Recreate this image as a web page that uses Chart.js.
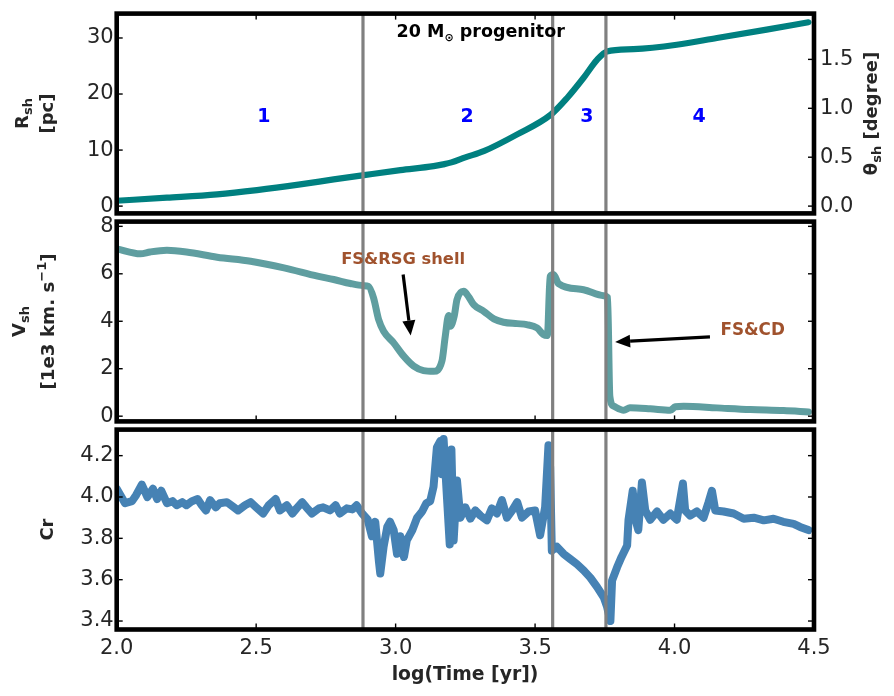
<!DOCTYPE html>
<html>
<head>
<meta charset="utf-8">
<script src="https://cdn.jsdelivr.net/npm/chart.js@4.4.1/dist/chart.umd.min.js"></script>
<style>
  html, body { margin: 0; padding: 0; background: #fff; }
  #wrap { position: relative; width: 894px; height: 696px; overflow: hidden; }
  #wrap canvas { position: absolute; left: 0; }
</style>
</head>
<body>
<div id="wrap">
  <canvas id="rChart" width="894" height="240" style="top:0px"></canvas>
  <canvas id="vChart" width="894" height="240" style="top:200px"></canvas>
  <canvas id="crChart" width="894" height="300" style="top:400px"></canvas>
</div>
<script>
// --- data ---
const xTicks = [2.0, 2.5, 3.0, 3.5, 4.0, 4.5];
const rTicks = [0, 10, 20, 30];
const thetaTicks = [0.0, 0.5, 1.0, 1.5];
const vTicks = [0, 2, 4, 6, 8];
const crTicks = [3.4, 3.6, 3.8, 4.0, 4.2];

// phase boundaries (log yr) and phase numbers
const phaseBounds = [2.883, 3.563, 3.754];
const phaseNames = ['1', '2', '3', '4'];
const phaseNameX = [2.528, 3.256, 3.686, 4.088];

const timeR = [2.0, 2.18, 2.36, 2.503, 2.658, 2.778, 2.887, 3.017, 3.136, 3.17, 3.2, 3.25,
    3.316, 3.436, 3.556, 3.615, 3.674, 3.722, 3.758, 3.853, 4.008, 4.152, 4.33, 4.48];
const rSh = [0.96, 1.5, 2.09, 2.85, 3.87, 4.76, 5.53, 6.42, 7.13, 7.45, 7.8, 8.7,
    9.8, 12.8, 16.3, 19.3, 22.9, 26.1, 27.6, 28.0, 28.8, 30.0, 31.5, 32.8];

const timeV = [2.0, 2.085, 2.12, 2.18, 2.25, 2.36, 2.48, 2.6, 2.72, 2.778, 2.838, 2.885,
    2.903, 2.921, 2.939, 2.957, 2.993, 3.029, 3.065, 3.1, 3.136, 3.166, 3.178, 3.19,
    3.196, 3.21, 3.22, 3.244, 3.262, 3.28, 3.316, 3.352, 3.387, 3.436, 3.47, 3.507,
    3.53, 3.544, 3.554, 3.566, 3.584, 3.674, 3.746, 3.76, 3.768, 3.782, 3.818, 3.84,
    3.913, 3.985, 4.003, 4.033, 4.152, 4.272, 4.391, 4.48];
const vSh = [7.05, 6.84, 6.92, 6.99, 6.92, 6.70, 6.53, 6.25, 5.9, 5.76, 5.59, 5.50,
    5.47, 4.98, 4.07, 3.58, 3.09, 2.53, 2.11, 1.92, 1.89, 2.32, 3.37, 4.24,
    3.79, 4.21, 4.91, 5.26, 5.03, 4.70, 4.42, 4.10, 3.96, 3.90, 3.86, 3.72,
    3.44, 3.40, 5.89, 5.97, 5.59, 5.33, 5.08, 5.0, 0.84, 0.42, 0.25, 0.35,
    0.31, 0.25, 0.40, 0.42, 0.35, 0.28, 0.24, 0.18];

const timeCr = [2.0, 2.03, 2.055, 2.07, 2.09, 2.11, 2.13, 2.145, 2.16, 2.18, 2.2, 2.215,
    2.235, 2.25, 2.27, 2.29, 2.305, 2.32, 2.335, 2.355, 2.37, 2.395, 2.42, 2.435,
    2.46, 2.48, 2.5, 2.525, 2.545, 2.57, 2.585, 2.61, 2.63, 2.645, 2.665, 2.68,
    2.7, 2.725, 2.74, 2.765, 2.785, 2.8, 2.825, 2.845, 2.86, 2.88, 2.9, 2.915,
    2.927, 2.94, 2.945, 2.957, 2.97, 2.98, 2.993, 3.005, 3.017, 3.03, 3.04, 3.06,
    3.077, 3.095, 3.11, 3.124, 3.136, 3.148, 3.16, 3.166, 3.172, 3.184, 3.194, 3.2,
    3.208, 3.22, 3.232, 3.25, 3.268, 3.286, 3.304, 3.327, 3.345, 3.363, 3.381, 3.399,
    3.418, 3.436, 3.453, 3.477, 3.5, 3.518, 3.536, 3.548, 3.554, 3.56, 3.578, 3.602,
    3.626, 3.65, 3.674, 3.698, 3.722, 3.746, 3.758, 3.77, 3.776, 3.794, 3.81, 3.83,
    3.835, 3.85, 3.86, 3.87, 3.883, 3.895, 3.913, 3.937, 3.96, 3.985, 4.008, 4.03,
    4.038, 4.056, 4.08, 4.104, 4.122, 4.134, 4.146, 4.176, 4.212, 4.248, 4.284, 4.32,
    4.355, 4.39, 4.427, 4.45, 4.48];
const crVals = [4.04, 3.97, 3.98, 4.01, 4.06, 4.0, 4.04, 3.99, 4.03, 3.97, 3.98, 3.96,
    3.975, 3.96, 3.98, 3.99, 3.96, 3.935, 3.985, 3.95, 3.97, 3.975, 3.95, 3.935,
    3.96, 3.975, 3.95, 3.92, 3.96, 3.99, 3.935, 3.96, 3.92, 3.945, 3.975, 3.95,
    3.92, 3.945, 3.95, 3.935, 3.96, 3.92, 3.945, 3.94, 3.96, 3.92, 3.89, 3.81,
    3.88, 3.69, 3.63, 3.76, 3.855, 3.88, 3.84, 3.725, 3.81, 3.71, 3.79, 3.84,
    3.90, 3.93, 3.97, 3.98, 4.05, 4.24, 4.27, 4.11, 4.28, 4.0, 3.77, 4.23,
    3.79, 4.08, 3.90, 3.95, 3.895, 3.935, 3.91, 3.887, 3.945, 3.92, 3.985, 3.90,
    3.935, 3.975, 3.90, 3.93, 3.935, 3.815, 3.95, 4.25, 4.145, 3.74, 3.76, 3.725,
    3.70, 3.675, 3.645, 3.61, 3.565, 3.515, 3.47, 3.40, 3.595, 3.66, 3.71, 3.765,
    3.89, 4.03, 3.89, 3.84, 4.07, 3.935, 3.89, 3.93, 3.89, 3.92, 3.89, 4.065,
    3.935, 3.91, 3.93, 3.90, 3.975, 4.03, 3.935, 3.93, 3.92, 3.895, 3.90, 3.887,
    3.895, 3.88, 3.87, 3.855, 3.84];

// --- axis ranges ---
const X_MIN = 2.0, X_MAX = 4.5;
const R_MIN = -1.3, R_MAX = 34.35;
const V_MIN = -0.22, V_MAX = 8.2;
const CR_MIN = 3.359, CR_MAX = 4.326;
const DEG_PER_PC = 180 / Math.PI / 1000;   // angular size seen from 1 kpc

// --- layout ---
const PLOT_LEFT = 116.7;
const RIGHT_GAP = 80;
const TICK_FONT = { family: 'DejaVu Sans', size: 21 };
const TICK_COLOR = '#262626';
const TITLE_COLOR = '#262626';

function pts(xs, ys) {
    return xs.map((x, i) => ({ x: x, y: ys[i] }));
}

function fixedTicks(list) {
    return scale => { scale.ticks = list.map(v => ({ value: v })); };
}

// draws text made of pieces [text, size, dy], centred on (x, y)
function drawRich(ctx, parts, x, y, color, rotate) {
    ctx.save();
    ctx.translate(x, y);
    if (rotate) ctx.rotate(rotate);
    ctx.fillStyle = color;
    ctx.textAlign = 'left';
    ctx.textBaseline = 'alphabetic';
    let w = 0;
    parts.forEach(p => {
        ctx.font = `bold ${p[1]}px "DejaVu Sans"`;
        w += ctx.measureText(p[0]).width;
    });
    const base = parts[0][1] * 0.36;
    let cx = -w / 2;
    parts.forEach(p => {
        ctx.font = `bold ${p[1]}px "DejaVu Sans"`;
        ctx.fillText(p[0], cx, base + (p[2] || 0));
        cx += ctx.measureText(p[0]).width;
    });
    ctx.restore();
}

function drawArrow(ctx, x1, y1, x2, y2) {
    const ang = Math.atan2(y2 - y1, x2 - x1);
    const headLen = 15, headW = 6.5;
    const bx = x2 - headLen * Math.cos(ang), by = y2 - headLen * Math.sin(ang);
    ctx.save();
    ctx.strokeStyle = '#000';
    ctx.fillStyle = '#000';
    ctx.lineWidth = 3.2;
    ctx.beginPath();
    ctx.moveTo(x1, y1);
    ctx.lineTo(bx, by);
    ctx.stroke();
    ctx.beginPath();
    ctx.moveTo(x2, y2);
    ctx.lineTo(bx + headW * Math.sin(ang), by - headW * Math.cos(ang));
    ctx.lineTo(bx - headW * Math.sin(ang), by + headW * Math.cos(ang));
    ctx.closePath();
    ctx.fill();
    ctx.restore();
}

// frame, inward ticks, phase lines and annotations for one panel
function makeDecor(cfg) {
    return {
        id: 'decor',
        afterDatasetsDraw(chart) {
            const { ctx, chartArea: a, scales } = chart;
            ctx.save();
            ctx.strokeStyle = '#808080';
            ctx.lineWidth = 3.2;
            phaseBounds.forEach(t => {
                const px = scales.x.getPixelForValue(t);
                ctx.beginPath();
                ctx.moveTo(px, a.top);
                ctx.lineTo(px, a.bottom);
                ctx.stroke();
            });
            ctx.restore();
        },
        afterDraw(chart) {
            const { ctx, chartArea: a, scales } = chart;
            const yS = scales.y;
            ctx.save();
            // inward ticks
            ctx.strokeStyle = '#000';
            ctx.lineWidth = 1.4;
            const tl = 6;
            cfg.xTickSides.forEach(side => {
                xTicks.forEach(v => {
                    const px = scales.x.getPixelForValue(v);
                    const y0 = side === 'top' ? a.top : a.bottom;
                    const dir = side === 'top' ? 1 : -1;
                    ctx.beginPath();
                    ctx.moveTo(px, y0);
                    ctx.lineTo(px, y0 + dir * tl);
                    ctx.stroke();
                });
            });
            yS.ticks.forEach(t => {
                const py = yS.getPixelForValue(t.value);
                ctx.beginPath();
                ctx.moveTo(a.left, py);
                ctx.lineTo(a.left + tl, py);
                ctx.stroke();
            });
            const rS = cfg.rightScale ? scales[cfg.rightScale] : yS;
            rS.ticks.forEach(t => {
                const py = rS.getPixelForValue(t.value);
                ctx.beginPath();
                ctx.moveTo(a.right, py);
                ctx.lineTo(a.right - tl, py);
                ctx.stroke();
            });
            // frame
            ctx.lineWidth = 4.6;
            ctx.strokeRect(a.left, a.top, a.right - a.left, a.bottom - a.top);
            ctx.restore();

            const midY = (a.top + a.bottom) / 2;
            (cfg.titles || []).forEach(tt => {
                const ty = tt.dy !== undefined ? a.bottom + tt.dy : midY;
                drawRich(ctx, tt.parts, tt.x, ty, TITLE_COLOR, tt.rotate);
            });
            (cfg.notes || []).forEach(n => {
                drawRich(ctx, n.parts, scales.x.getPixelForValue(n.x), yS.getPixelForValue(n.y), n.color);
            });
            (cfg.arrows || []).forEach(ar => {
                drawArrow(ctx,
                    scales.x.getPixelForValue(ar[0]), yS.getPixelForValue(ar[1]),
                    scales.x.getPixelForValue(ar[2]), yS.getPixelForValue(ar[3]));
            });
        }
    };
}

function xScale(axisHeight, showLabels) {
    return {
        type: 'linear', min: X_MIN, max: X_MAX,
        afterBuildTicks: fixedTicks(xTicks),
        afterFit: s => { s.height = axisHeight; },
        grid: { display: false, drawTicks: false },
        border: { display: false },
        ticks: {
            display: showLabels, padding: 6, font: TICK_FONT, color: TICK_COLOR,
            maxRotation: 0, callback: v => v.toFixed(1)
        }
    };
}

function yScale(min, max, list, fmt) {
    return {
        type: 'linear', position: 'left', min: min, max: max,
        afterBuildTicks: fixedTicks(list),
        afterFit: s => { s.width = PLOT_LEFT; },
        grid: { display: false, drawTicks: false },
        border: { display: false },
        ticks: { padding: 3, font: TICK_FONT, color: TICK_COLOR, callback: fmt }
    };
}

function baseOptions(padding, scales) {
    return {
        responsive: false,
        maintainAspectRatio: false,
        animation: false,
        events: [],
        layout: { padding: padding },
        plugins: { legend: { display: false }, tooltip: { enabled: false } },
        scales: scales
    };
}

function lineSet(data, color, width, smooth) {
    return {
        data: data, borderColor: color, borderWidth: width, pointRadius: 0,
        fill: false, tension: 0, cubicInterpolationMode: smooth ? 'monotone' : 'default',
        borderJoinStyle: 'round', borderCapStyle: 'round'
    };
}

// build once to learn the label margins, then size/place the canvas so the
// plot frame lands on [top, bottom] of the page
function buildPanel(id, config, top, bottom) {
    const canvas = document.getElementById(id);
    let chart = new Chart(canvas, config);
    const mt = chart.chartArea.top;
    const mb = chart.height - chart.chartArea.bottom;
    chart.destroy();
    const h = Math.round(bottom - top + mt + mb);
    canvas.width = 894;
    canvas.height = h;
    canvas.style.width = '894px';
    canvas.style.height = h + 'px';
    canvas.style.top = (top - mt) + 'px';
    return new Chart(canvas, config);
}

const ROT = -Math.PI / 2;

// --- panel 1: shock radius ---
buildPanel('rChart', {
    type: 'line',
    data: { datasets: [lineSet(pts(timeR, rSh), '#008080', 6.2, true)] },
    options: baseOptions({ top: 4, left: 0, right: 0, bottom: 0 }, {
        x: xScale(4, false),
        y: yScale(R_MIN, R_MAX, rTicks, v => String(v)),
        y2: {
            type: 'linear', position: 'right', display: true,
            min: R_MIN * DEG_PER_PC, max: R_MAX * DEG_PER_PC,
            afterBuildTicks: fixedTicks(thetaTicks),
            afterFit: s => { s.width = RIGHT_GAP; },
            grid: { display: false, drawTicks: false },
            border: { display: false },
            ticks: { padding: 6, font: TICK_FONT, color: TICK_COLOR, callback: v => v.toFixed(1) }
        }
    }),
    plugins: [makeDecor({
        xTickSides: ['top'],
        rightScale: 'y2',
        titles: [
            { parts: [['R', 18], ['sh', 13, 4]], x: 22, rotate: ROT },
            { parts: [['[pc]', 18]], x: 47, rotate: ROT },
            { parts: [['θ', 18], ['sh', 13, 4], [' [degree]', 18]], x: 871, rotate: ROT }
        ],
        notes: [
            { parts: [['20 M', 17.5], ['⊙', 11, 4], [' progenitor', 17.5]], x: 3.305, y: 31.3, color: '#000' }
        ].concat(phaseNames.map((n, i) => (
            { parts: [[n, 19]], x: phaseNameX[i], y: 16.2, color: '#0000ff' })))
    })]
}, 14, 214);

// --- panel 2: shock velocity ---
buildPanel('vChart', {
    type: 'line',
    data: { datasets: [lineSet(pts(timeV, vSh), '#5F9EA0', 7, true)] },
    options: baseOptions({ top: 4, left: 0, right: RIGHT_GAP, bottom: 0 }, {
        x: xScale(4, false),
        y: yScale(V_MIN, V_MAX, vTicks, v => String(v))
    }),
    plugins: [makeDecor({
        xTickSides: ['bottom'],
        titles: [
            { parts: [['V', 18], ['sh', 13, 4]], x: 19, rotate: ROT },
            { parts: [['[1e3 km. s', 18.3], ['−1', 13, -8], [']', 18.3]], x: 47, rotate: ROT }
        ],
        notes: [
            { parts: [['FS&RSG shell', 16.3]], x: 3.027, y: 6.64, color: '#A0522D' },
            { parts: [['FS&CD', 16.8]], x: 4.28, y: 3.69, color: '#A0522D' }
        ],
        arrows: [
            [3.027, 5.97, 3.054, 3.40],
            [4.127, 3.34, 3.787, 3.13]
        ]
    })]
}, 222, 422);

// --- panel 3: compression ratio ---
buildPanel('crChart', {
    type: 'line',
    data: { datasets: [lineSet(pts(timeCr, crVals), '#4682B4', 8, false)] },
    options: baseOptions({ top: 4, left: 0, right: RIGHT_GAP, bottom: 0 }, {
        x: xScale(66.5, true),
        y: yScale(CR_MIN, CR_MAX, crTicks, v => v.toFixed(1))
    }),
    plugins: [makeDecor({
        xTickSides: ['bottom'],
        titles: [
            { parts: [['Cr', 18]], x: 47, rotate: ROT },
            { parts: [['log(Time [yr])', 18.8]], x: 465, dy: 43.5 }
        ]
    })]
}, 430, 629.5);
</script>
</body>
</html>
